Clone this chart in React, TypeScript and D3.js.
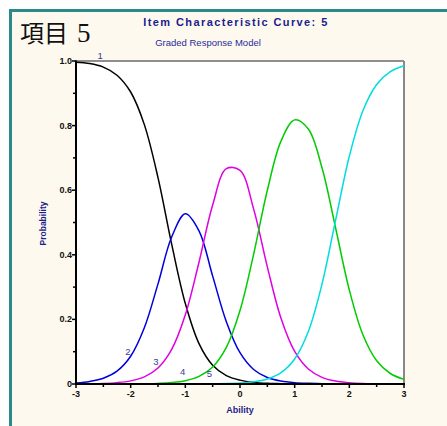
import React from "react";
import * as d3 from "d3";

const abilityValues = [-3, -2.75, -2.5, -2.25, -2, -1.75, -1.5, -1.25, -1, -0.75, -0.5, -0.25, 0, 0.25, 0.5, 0.75, 1, 1.25, 1.5, 1.75, 2, 2.25, 2.5, 2.75, 3];

const category1 = [0.996, 0.992, 0.981, 0.956, 0.904, 0.803, 0.639, 0.433, 0.249, 0.125, 0.058, 0.026, 0.012, 0.005, 0.002, 0.001, 0.0, 0, 0, 0, 0, 0, 0, 0, 0];
const category2 = [0.003, 0.008, 0.018, 0.04, 0.086, 0.174, 0.31, 0.455, 0.527, 0.474, 0.334, 0.193, 0.097, 0.045, 0.02, 0.009, 0.004, 0.002, 0.001, 0, 0, 0, 0, 0, 0];
const category3 = [0.0004, 0.0008, 0.0018, 0.0042, 0.0097, 0.0221, 0.0494, 0.1069, 0.2141, 0.3771, 0.5541, 0.6665, 0.6615, 0.5413, 0.3627, 0.2034, 0.1007, 0.0464, 0.0207, 0.0091, 0.004, 0.0017, 0.0008, 0.0003, 0.0001];
const category4 = [0, 0, 0.0001, 0.0002, 0.0004, 0.0008, 0.0019, 0.0045, 0.0103, 0.0235, 0.0526, 0.1134, 0.2275, 0.4022, 0.5997, 0.7519, 0.8177, 0.7895, 0.6693, 0.4822, 0.2909, 0.1515, 0.0719, 0.0325, 0.0144];
const category5 = [0, 0, 0, 0, 0, 0, 0, 0.0001, 0.0001, 0.0002, 0.0006, 0.0013, 0.0029, 0.0068, 0.0155, 0.035, 0.0774, 0.1623, 0.3092, 0.5084, 0.705, 0.8467, 0.9273, 0.9672, 0.9855];

const seriesValues = [category1, category2, category3, category4, category5];
const seriesNames = ["1", "2", "3", "4", "5"];
const seriesColors = ["#000000", "#0000dd", "#e000e0", "#00cc00", "#00dddd"];
const labelAbility = [-2.56, -2.05, -1.54, -1.05, -0.56];
const labelProb = [1.018, 0.1, 0.071, 0.04, 0.032];

const xTicks = [-3, -2, -1, 0, 1, 2, 3];
const xMinor = [-2.5, -1.5, -0.5, 0.5, 1.5, 2.5];
const yTicks = [0, 0.2, 0.4, 0.6, 0.8, 1.0];
const yTickLabels = ["0", "0.2", "0.4", "0.6", "0.8", "1.0"];
const yMinor = [0.1, 0.3, 0.5, 0.7, 0.9];

const W = 447;
const H = 426;
const L = 76, R = 404, T = 61, B = 384;

export default function App() {
  const x = d3.scaleLinear().domain([-3, 3]).range([L, R]);
  const y = d3.scaleLinear().domain([0, 1]).range([B, T]);
  const line = d3
    .line<number>()
    .x((_, i) => x(abilityValues[i]))
    .y((d) => y(d))
    .curve(d3.curveCatmullRom.alpha(0.5));

  const navy = "#1c1c8c";
  const sans = "'Liberation Sans', Arial, sans-serif";

  return (
    <svg width={W} height={H} style={{ position: "absolute", left: 0, top: 0, background: "#ffffff" }}>
      <rect x={10.5} y={10.5} width={W + 20} height={H + 20} fill="#fdf9ef" stroke="#2a8a88" strokeWidth={3} />
      <text x={20} y={42} fontSize={24} fill="#111">
        <tspan fontFamily="'Noto Sans CJK JP', sans-serif">項目</tspan>
        <tspan fontFamily="'Liberation Serif', serif" fontSize={27} dx={9}>5</tspan>
      </text>
      <text x={236} y={26} textAnchor="middle" fontFamily={sans} fontWeight="bold" fontSize={11} fill={navy} letterSpacing={1.4}>
        Item Characteristic Curve: 5
      </text>
      <text x={208} y={46} textAnchor="middle" fontFamily={sans} fontSize={9.5} fill="#2a2a9a">
        Graded Response Model
      </text>

      <rect x={L} y={T} width={R - L} height={B - T} fill="#ffffff" />
      <line x1={L} x2={R} y1={T} y2={T} stroke="#222" strokeWidth={1} />
      <line x1={R} x2={R} y1={T} y2={B} stroke="#888" strokeWidth={2} />

      {seriesValues.map((vals, i) => (
        <path key={i} d={line(vals) || ""} fill="none" stroke={seriesColors[i]} strokeWidth={1.5} />
      ))}

      <line x1={L} x2={L} y1={T - 0.5} y2={B + 1} stroke="#000" strokeWidth={2} />
      <line x1={L - 1} x2={R + 1} y1={B} y2={B} stroke="#000" strokeWidth={2} />

      {yTicks.map((t, i) => (
        <g key={"yt" + i}>
          <line x1={L - 4} x2={L} y1={y(t)} y2={y(t)} stroke="#000" strokeWidth={1.5} />
          <text x={L - 4} y={y(t) + 3} textAnchor="end" fontFamily={sans} fontWeight="bold" fontSize={9} fill="#111">
            {yTickLabels[i]}
          </text>
        </g>
      ))}
      {yMinor.map((t, i) => (
        <line key={"ym" + i} x1={L - 3} x2={L} y1={y(t)} y2={y(t)} stroke="#000" strokeWidth={1.5} />
      ))}
      {xTicks.map((t, i) => (
        <g key={"xt" + i}>
          <line x1={x(t)} x2={x(t)} y1={B} y2={B + 4} stroke="#000" strokeWidth={1.5} />
          <text x={x(t)} y={B + 13} textAnchor="middle" fontFamily={sans} fontWeight="bold" fontSize={9} fill="#111">
            {t}
          </text>
        </g>
      ))}
      {xMinor.map((t, i) => (
        <line key={"xm" + i} x1={x(t)} x2={x(t)} y1={B} y2={B + 3} stroke="#000" strokeWidth={1.5} />
      ))}

      {seriesNames.map((n, i) => (
        <text key={"lb" + i} x={x(labelAbility[i])} y={y(labelProb[i]) + 3.5} textAnchor="middle" fontFamily={sans} fontSize={9.5} fill="#3a3a9a">
          {n}
        </text>
      ))}

      <text x={(L + R) / 2} y={413} textAnchor="middle" fontFamily={sans} fontWeight="bold" fontSize={9} fill={navy}>
        Ability
      </text>
      <text transform={`translate(46, ${(T + B) / 2 + 1}) rotate(-90)`} textAnchor="middle" fontFamily={sans} fontWeight="bold" fontSize={8.5} fill={navy}>
        Probability
      </text>
    </svg>
  );
}
